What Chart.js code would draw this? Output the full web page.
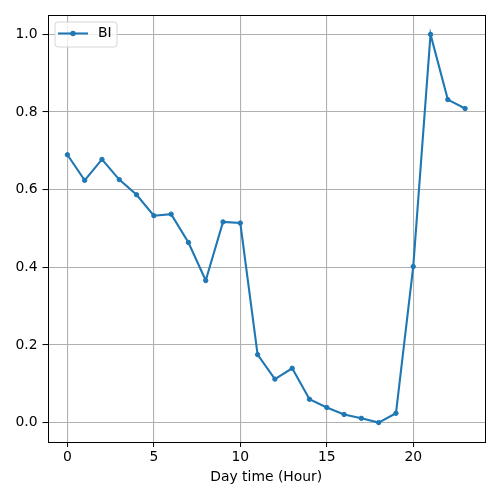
<!DOCTYPE html>
<html>
<head>
<meta charset="utf-8">
<script src="https://cdn.jsdelivr.net/npm/chart.js@4/dist/chart.umd.min.js"></script>
<style>
html,body{margin:0;padding:0;background:#fff;}
#wrap{width:500px;height:500px;}
</style>
</head>
<body>
<div id="wrap"><canvas id="c" width="500" height="500"></canvas></div>
<script>
const hours = [0,1,2,3,4,5,6,7,8,9,10,11,12,13,14,15,16,17,18,19,20,21,22,23];
const biValues = [0.690,0.624,0.678,0.626,0.587,0.533,0.537,0.464,0.366,0.517,0.514,0.175,0.112,0.140,0.060,0.039,0.021,0.011,0.000,0.024,0.402,1.000,0.832,0.809];
const seriesName = 'BI';
const xTicks = [0,5,10,15,20];
const yTicks = [0.0,0.2,0.4,0.6,0.8,1.0];
const xTitle = 'Day time (Hour)';

const FONT = "'DejaVu Sans', sans-serif";
const BLUE = '#1f77b4';

const framePlugin = {
  id: 'frame',
  afterDraw(chart) {
    const ctx = chart.ctx, a = chart.chartArea;
    ctx.save();
    ctx.strokeStyle = '#000';
    ctx.lineWidth = 1;
    ctx.strokeRect(Math.round(a.left)+0.5, Math.round(a.top)+0.5, Math.round(a.right)-Math.round(a.left), Math.round(a.bottom)-Math.round(a.top));
    // legend
    const ds = chart.data.datasets[0];
    const x0 = a.left + 7.5, y0 = a.top + 7;
    const w = 62, h = 25, r = 3;
    ctx.beginPath();
    ctx.moveTo(x0 + r, y0);
    ctx.lineTo(x0 + w - r, y0);
    ctx.quadraticCurveTo(x0 + w, y0, x0 + w, y0 + r);
    ctx.lineTo(x0 + w, y0 + h - r);
    ctx.quadraticCurveTo(x0 + w, y0 + h, x0 + w - r, y0 + h);
    ctx.lineTo(x0 + r, y0 + h);
    ctx.quadraticCurveTo(x0, y0 + h, x0, y0 + h - r);
    ctx.lineTo(x0, y0 + r);
    ctx.quadraticCurveTo(x0, y0, x0 + r, y0);
    ctx.closePath();
    ctx.fillStyle = 'rgba(255,255,255,0.8)';
    ctx.fill();
    ctx.strokeStyle = '#d6d6d6';
    ctx.lineWidth = 1;
    ctx.stroke();
    const ly = y0 + 11.5;
    ctx.strokeStyle = ds.borderColor;
    ctx.lineWidth = ds.borderWidth;
    ctx.beginPath();
    ctx.moveTo(x0 + 3, ly);
    ctx.lineTo(x0 + 33, ly);
    ctx.stroke();
    ctx.fillStyle = ds.pointBackgroundColor;
    ctx.beginPath();
    ctx.arc(x0 + 18, ly, 2.7, 0, Math.PI * 2);
    ctx.fill();
    ctx.fillStyle = '#000';
    ctx.font = '13.9px ' + FONT;
    ctx.textBaseline = 'middle';
    ctx.textAlign = 'left';
    ctx.fillText(ds.label, x0 + 43, ly);
    ctx.restore();
  }
};

new Chart(document.getElementById('c'), {
  type: 'line',
  data: {
    datasets: [{
      label: seriesName,
      data: hours.map((h, i) => ({x: h, y: biValues[i]})),
      borderColor: BLUE,
      backgroundColor: BLUE,
      pointBackgroundColor: BLUE,
      pointBorderColor: BLUE,
      borderWidth: 2.1,
      pointRadius: 2.2,
      pointBorderWidth: 1,
      tension: 0,
      fill: false
    }]
  },
  options: {
    responsive: false,
    animation: false,
    devicePixelRatio: 1,
    layout: { padding: { left: 0, right: 15, top: 15, bottom: 0 } },
    plugins: {
      legend: { display: false },
      tooltip: { enabled: false }
    },
    scales: {
      x: {
        type: 'linear',
        min: -1.15,
        max: 24.15,
        afterBuildTicks(scale) { scale.ticks = xTicks.map(v => ({value: v})); },
        afterFit(scale) { scale.height = 58; },
        grid: { color: '#b0b0b0', lineWidth: 1.1, tickColor: '#000', tickLength: 5, tickWidth: 1 },
        border: { display: false },
        ticks: { color: '#000', font: { family: FONT, size: 13.9 }, padding: 2, maxRotation: 0,
                 callback: v => String(v) },
        title: { display: true, text: xTitle, color: '#000', font: { family: FONT, size: 13.9 }, padding: { top: 2, bottom: 14 } }
      },
      y: {
        type: 'linear',
        min: -0.05,
        max: 1.05,
        afterBuildTicks(scale) { scale.ticks = yTicks.map(v => ({value: v})); },
        afterFit(scale) { scale.width = 47.5; },
        grid: { color: '#b0b0b0', lineWidth: 1.1, tickColor: '#000', tickLength: 5, tickWidth: 1 },
        border: { display: false },
        ticks: { color: '#000', font: { family: FONT, size: 13.9 }, padding: 5,
                 callback: v => Number(v).toFixed(1) }
      }
    }
  },
  plugins: [framePlugin]
});
</script>
</body>
</html>
